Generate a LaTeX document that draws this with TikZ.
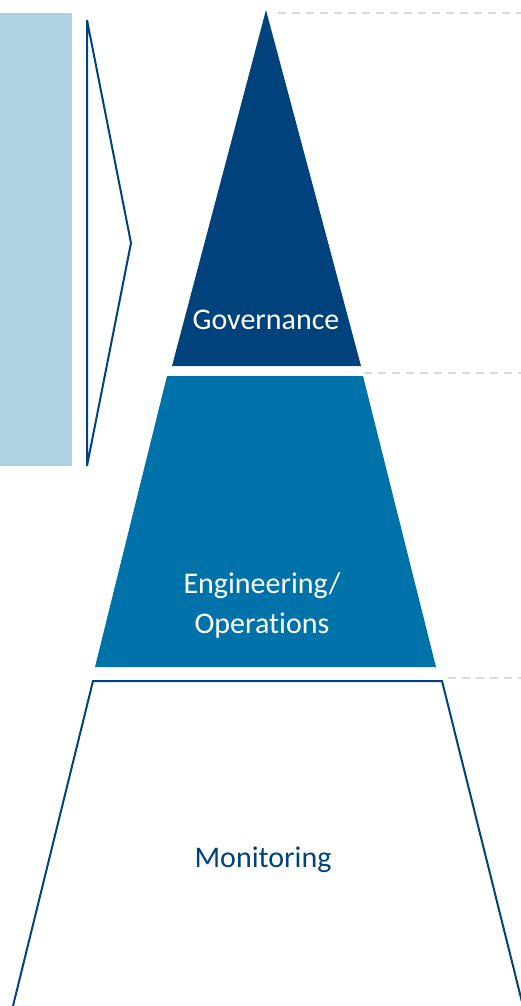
\documentclass[tikz,border=0pt]{standalone}
\usepackage{fontspec}
\setmainfont{Carlito}[Ligatures=NoCommon]
\definecolor{govblue}{HTML}{00427C}
\definecolor{engblue}{HTML}{0072AA}
\definecolor{lightband}{HTML}{AED1E3}
\definecolor{dashgrey}{HTML}{D9D9D9}
\tikzset{
  outline/.style={draw=govblue, line width=2pt, line join=miter},
  guide/.style={draw=dashgrey, line width=1.5pt, dash pattern=on 8pt off 6pt},
  label/.style={font=\fontsize{30}{40}\selectfont, inner sep=0pt, align=center}
}
\begin{document}
\begin{tikzpicture}[x=1pt,y=-1pt]
\useasboundingbox (0,0) rectangle (521,1006);
\begin{scope}
\clip (0,0) rectangle (521,1006);
% left band
\fill[lightband] (0,13) rectangle (72,466);
% bracket
\draw[outline] (87,466) -- (87,20) -- (131,243) -- (87,466);
% governance triangle
\fill[govblue] (266,10) -- (361,366) -- (172,366) -- cycle;
% engineering trapezoid
\fill[engblue] (167,376) -- (363,376) -- (436,667) -- (95,667) -- cycle;
% monitoring trapezoid
\draw[outline] (12,1010) -- (93,681) -- (442,681) -- (524,1010);
% dashed guides
\coordinate (g1) at (278,13);  \coordinate (g1e) at (521,13);
\coordinate (g2) at (364,373); \coordinate (g2e) at (521,373);
\coordinate (g3) at (448,678); \coordinate (g3e) at (521,678);
\draw[guide] (g1) -- (g1e);
\draw[guide] (g2) -- (g2e);
\draw[guide] (g3) -- (g3e);
\end{scope}
% labels
\node[label, text=white, anchor=base] (gov) at (266,329) {Governance};
\node[label, text=white] (eng) at (262,605) {Engineering/\\Operations};
\node[label, text=govblue, anchor=base] (mon) at (263,867) {Monitoring};
\end{tikzpicture}
\end{document}
